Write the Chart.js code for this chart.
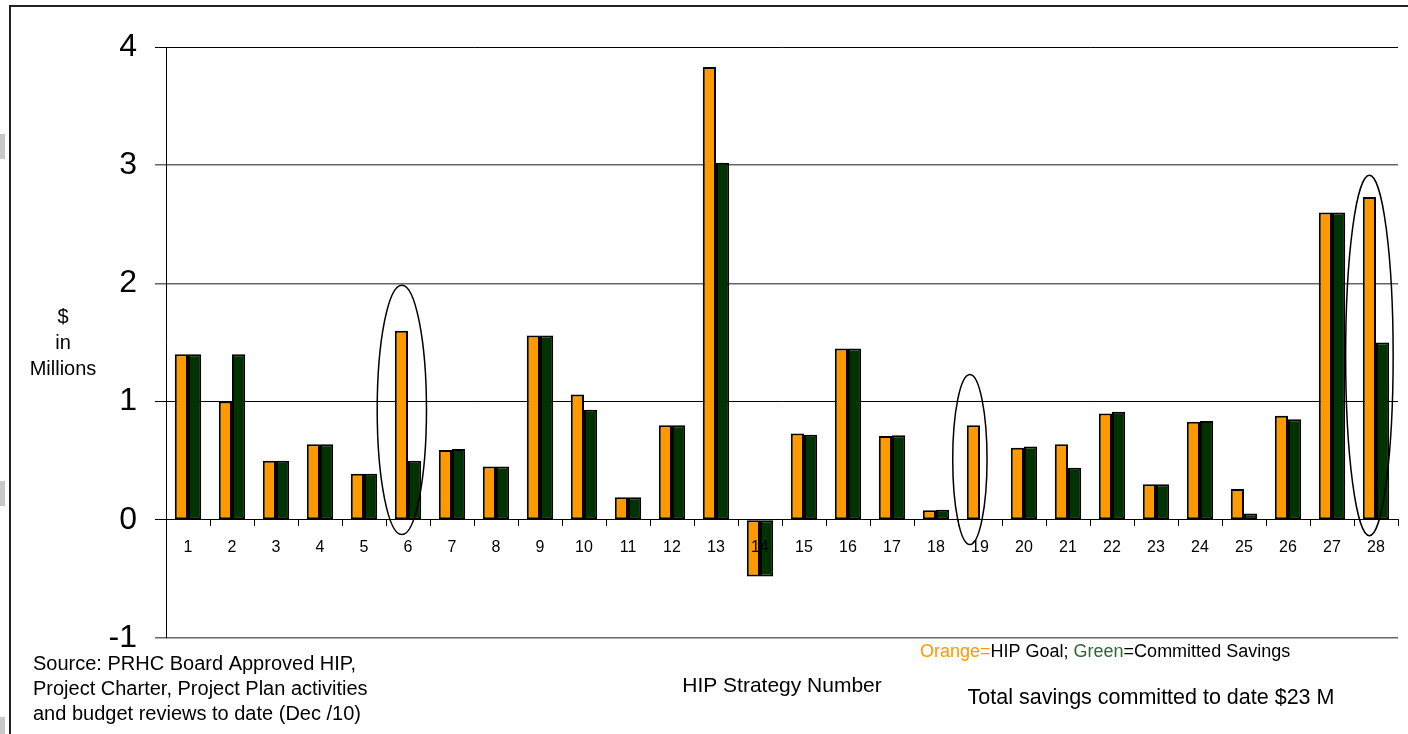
<!DOCTYPE html>
<html>
<head>
<meta charset="utf-8">
<script src="https://cdn.jsdelivr.net/npm/chart.js@4/dist/chart.umd.min.js"></script>
<style>
  html, body { margin: 0; padding: 0; background: #fff; }
  canvas { display: block; }
</style>
</head>
<body>
<canvas id="hip" width="1408" height="734"></canvas>
<script>
// HIP strategy numbers along the x axis
const strategies = ['1','2','3','4','5','6','7','8','9','10','11','12','13','14',
                    '15','16','17','18','19','20','21','22','23','24','25','26','27','28'];

// $ millions per strategy
const hipGoal = [1.40, 1.00, 0.50, 0.64, 0.39, 1.60, 0.59, 0.45, 1.56, 1.06,
                 0.19, 0.80, 3.83, -0.48, 0.73, 1.45, 0.71, 0.08, 0.80, 0.61,
                 0.64, 0.90, 0.30, 0.83, 0.26, 0.88, 2.60, 2.73];
const committedSavings = [1.40, 1.40, 0.50, 0.64, 0.39, 0.50, 0.60, 0.45, 1.56, 0.93,
                          0.19, 0.80, 3.02, -0.48, 0.72, 1.45, 0.715, 0.085, 0.00, 0.62,
                          0.44, 0.915, 0.30, 0.835, 0.054, 0.85, 2.60, 1.50];

// value axis
const yMin = -1;
const yMax = 4;
const yStep = 1;

// strategies singled out with a drawn ring
const highlighted = ['6', '19', '28'];

const ORANGE = '#FF9900';
const GREEN = '#003300';
const FONT = "'Liberation Sans', Arial, Helvetica, sans-serif";

Chart.defaults.font.family = FONT;
Chart.defaults.color = '#000';

// ring geometry for each highlighted strategy: shift and radius in category widths,
// vertical centre and half height in axis units
const ringShape = {
  '6':  { dx: -0.14, cy: 0.93, ry: 1.055, rx: 0.56 },
  '19': { dx: -0.23, cy: 0.51, ry: 0.72,  rx: 0.39 },
  '28': { dx: -0.15, cy: 1.39, ry: 1.525, rx: 0.54 }
};

const decorations = {
  id: 'decorations',
  beforeDraw(chart) {
    const ctx = chart.ctx;
    ctx.save();
    // slide frame
    ctx.strokeStyle = '#222';
    ctx.lineWidth = 2;
    ctx.beginPath();
    ctx.moveTo(10, 734);
    ctx.lineTo(10, 6);
    ctx.lineTo(1408, 6);
    ctx.stroke();
    // grey margin markers
    ctx.fillStyle = '#c8c8c8';
    ctx.fillRect(0, 134, 5, 25);
    ctx.fillRect(0, 481, 5, 25);
    ctx.fillRect(0, 717, 5, 17);
    ctx.restore();
  },
  afterDatasetsDraw(chart) {
    const ctx = chart.ctx;
    const xs = chart.scales.x;
    const ys = chart.scales.y;
    const catW = xs.getPixelForValue(1) - xs.getPixelForValue(0);
    const unit = ys.getPixelForValue(0) - ys.getPixelForValue(1);
    ctx.save();
    ctx.strokeStyle = '#000';
    ctx.lineWidth = 1.5;
    highlighted.forEach(label => {
      const s = ringShape[label];
      const idx = strategies.indexOf(label);
      const cx = xs.getPixelForValue(idx) + s.dx * catW;
      const cy = ys.getPixelForValue(s.cy);
      ctx.beginPath();
      ctx.ellipse(cx, cy, s.rx * catW, s.ry * unit, 0, 0, Math.PI * 2);
      ctx.stroke();
    });
    ctx.restore();
  },
  afterDraw(chart) {
    const ctx = chart.ctx;
    ctx.save();
    ctx.fillStyle = '#000';
    ctx.textBaseline = 'middle';

    // value axis caption
    ctx.font = '20px ' + FONT;
    ctx.textAlign = 'center';
    ctx.fillText('$', 63, 317);
    ctx.fillText('in', 63, 343);
    ctx.fillText('Millions', 63, 369);

    // source note
    ctx.textAlign = 'left';
    ctx.font = '20px ' + FONT;
    ctx.fillText('Source: PRHC Board Approved HIP,', 33, 664);
    ctx.fillText('Project Charter, Project Plan activities', 33, 689);
    ctx.fillText('and budget reviews to date (Dec /10)', 33, 714);

    // category axis caption
    ctx.textAlign = 'center';
    ctx.font = '21px ' + FONT;
    ctx.fillText('HIP Strategy Number', 782, 686);

    // total
    ctx.font = '21.5px ' + FONT;
    ctx.fillText('Total savings committed to date $23 M', 1151, 698);

    // colour key
    ctx.font = '18px ' + FONT;
    ctx.textAlign = 'left';
    const parts = [
      ['Orange=', ORANGE],
      ['HIP Goal; ', '#000'],
      ['Green', '#336633'],
      ['=Committed Savings', '#000']
    ];
    let x = 920;
    parts.forEach(([t, c]) => {
      ctx.fillStyle = c;
      ctx.fillText(t, x, 652);
      x += ctx.measureText(t).width;
    });
    ctx.restore();
  }
};

new Chart(document.getElementById('hip'), {
  type: 'bar',
  data: {
    labels: strategies,
    datasets: [
      {
        label: 'HIP Goal',
        data: hipGoal,
        backgroundColor: ORANGE,
        borderColor: '#000',
        borderWidth: 2,
        borderSkipped: false
      },
      {
        label: 'Committed Savings',
        data: committedSavings,
        backgroundColor: GREEN,
        borderColor: '#000',
        borderWidth: 2,
        borderSkipped: false
      }
    ]
  },
  options: {
    responsive: false,
    devicePixelRatio: 1,
    animation: false,
    layout: { padding: { left: 0, right: 10, top: 47, bottom: 96 } },
    categoryPercentage: 0.6,
    barPercentage: 1.0,
    plugins: {
      legend: { display: false },
      tooltip: { enabled: false },
      title: { display: false }
    },
    scales: {
      x: {
        type: 'category',
        position: { y: 0 },
        grid: {
          display: true,
          drawOnChartArea: false,
          drawTicks: true,
          tickLength: 6,
          color: '#000',
          offset: true
        },
        border: { display: true, color: '#000', width: 1 },
        ticks: {
          z: 1,
          font: { size: 16 },
          color: '#000',
          padding: 12,
          maxRotation: 0,
          autoSkip: false
        }
      },
      y: {
        position: 'left',
        min: yMin,
        max: yMax,
        afterFit(scale) { scale.width = 166; },
        afterBuildTicks(scale) {
          const t = [];
          for (let v = yMin; v <= yMax; v += yStep) t.push({ value: v });
          scale.ticks = t;
        },
        grid: {
          drawTicks: true,
          tickLength: 11,
          color: ctx => (ctx.tick && (ctx.tick.value === 4 || ctx.tick.value === 1 || ctx.tick.value === 0)) ? '#000' : '#666',
          lineWidth: ctx => (ctx.tick && (ctx.tick.value === 3 || ctx.tick.value === 2 || ctx.tick.value === -1)) ? 1.5 : 1
        },
        border: { display: true, color: '#000', width: 1 },
        ticks: {
          font: { size: 32 },
          color: '#000',
          padding: 18,
          callback: v => String(v)
        }
      }
    }
  },
  plugins: [decorations]
});
</script>
</body>
</html>
